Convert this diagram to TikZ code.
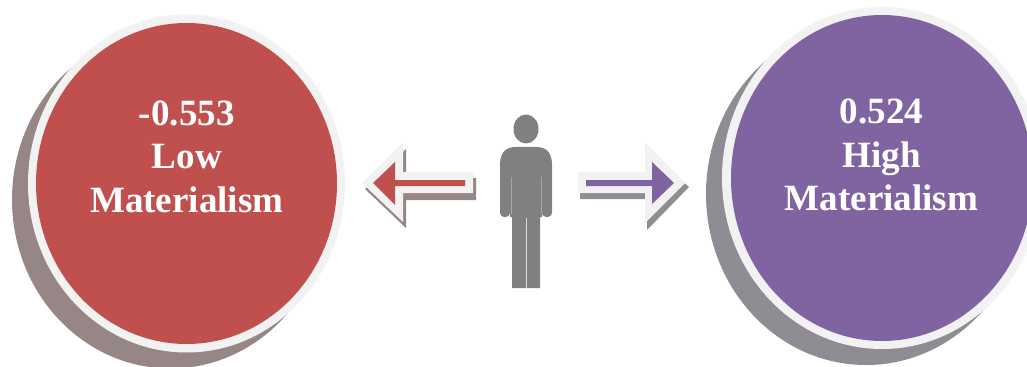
\documentclass[tikz,border=0pt]{standalone}
\usepackage{fontspec}
\setmainfont{Liberation Serif}
\usetikzlibrary{shapes.geometric}
\definecolor{redfill}{HTML}{C0504D}
\definecolor{purplefill}{HTML}{8064A2}
\definecolor{ringlight}{HTML}{F2F2F2}
\definecolor{redshadow}{HTML}{968685}
\definecolor{purpleshadow}{HTML}{8F8C93}
\definecolor{personcol}{HTML}{808080}
\tikzset{
  disc/.style={ellipse,inner sep=0pt,outer sep=0pt,draw=none},
  disclabel/.style={text=white,align=center,inner sep=0pt,font=\fontsize{27.8}{32.6}\selectfont\bfseries}
}
\begin{document}
\begin{tikzpicture}[x=0.75pt,y=-0.75pt]
\useasboundingbox (0,0) rectangle (1027,367);
\clip (0,0) rectangle (1027,367);
\fill[white] (0,0) rectangle (1027,367);
% red disc
\node[disc,fill=redshadow,minimum width=237.75pt,minimum height=253.5pt] (redshade) at (170.5,199.5) {};
\node[disc,fill=ringlight,minimum width=237.75pt,minimum height=253.5pt] (redring) at (186.5,183.5) {};
\node[disc,fill=redfill,minimum width=225.75pt,minimum height=240.75pt] (reddisc) at (186.5,183.5) {};
\node[disclabel] (redtext) at (186.8,156.7) {-0.553\\Low\\Materialism};
% purple disc
\node[disc,fill=purpleshadow,minimum width=240pt,minimum height=256.5pt] (purpleshade) at (866,194) {};
\node[disc,fill=ringlight,minimum width=240pt,minimum height=256.5pt] (purplering) at (882,178) {};
\node[disc,fill=purplefill,minimum width=226.5pt,minimum height=244.5pt] (purpledisc) at (882,178) {};
\node[disclabel] (purpletext) at (881.5,155) {0.524\\High\\Materialism};
% left arrow
\fill[redshadow] (365,189) -- (406,149) -- (406,178) -- (476,178) -- (476,200) -- (406,200) -- (406,228) -- cycle;
\fill[ringlight] (362,183) -- (403,143) -- (403,172) -- (473,172) -- (473,193) -- (403,193) -- (403,222) -- cycle;
\fill[redfill] (373,183) -- (395,162) -- (395,180) -- (465,180) -- (465,186) -- (395,186) -- (395,205) -- cycle;
% right arrow
\fill[purpleshadow] (689,187) -- (647,230) -- (647,199) -- (580,199) -- (580,178) -- (647,178) -- (647,149) -- cycle;
\fill[ringlight] (685,183) -- (645,143) -- (645,172) -- (578,172) -- (578,193) -- (645,193) -- (645,223) -- cycle;
\fill[purplefill] (674,183) -- (652,162) -- (652,180) -- (586,180) -- (586,186) -- (652,186) -- (652,204) -- cycle;
% person
\fill[personcol] (526,129) ellipse [x radius=12.5,y radius=14.5];
\fill[personcol] (512,288) -- (512,217) -- (510,217) -- (510,212)
  .. controls (510,219) and (500,219) .. (500,212) -- (500,165)
  .. controls (500,152) and (506,147) .. (516,147) -- (536,147)
  .. controls (546,147) and (552,152) .. (552,165) -- (552,212)
  .. controls (552,219) and (542,219) .. (542,212) -- (542,217) -- (540,217) -- (540,288) -- cycle;
\draw[personcol!70!white,line width=0.75pt] (511,177) -- (511,214) (541,177) -- (541,214);
\draw[personcol!30!white,line width=0.75pt] (526,218) -- (526,288);
\end{tikzpicture}
\end{document}
